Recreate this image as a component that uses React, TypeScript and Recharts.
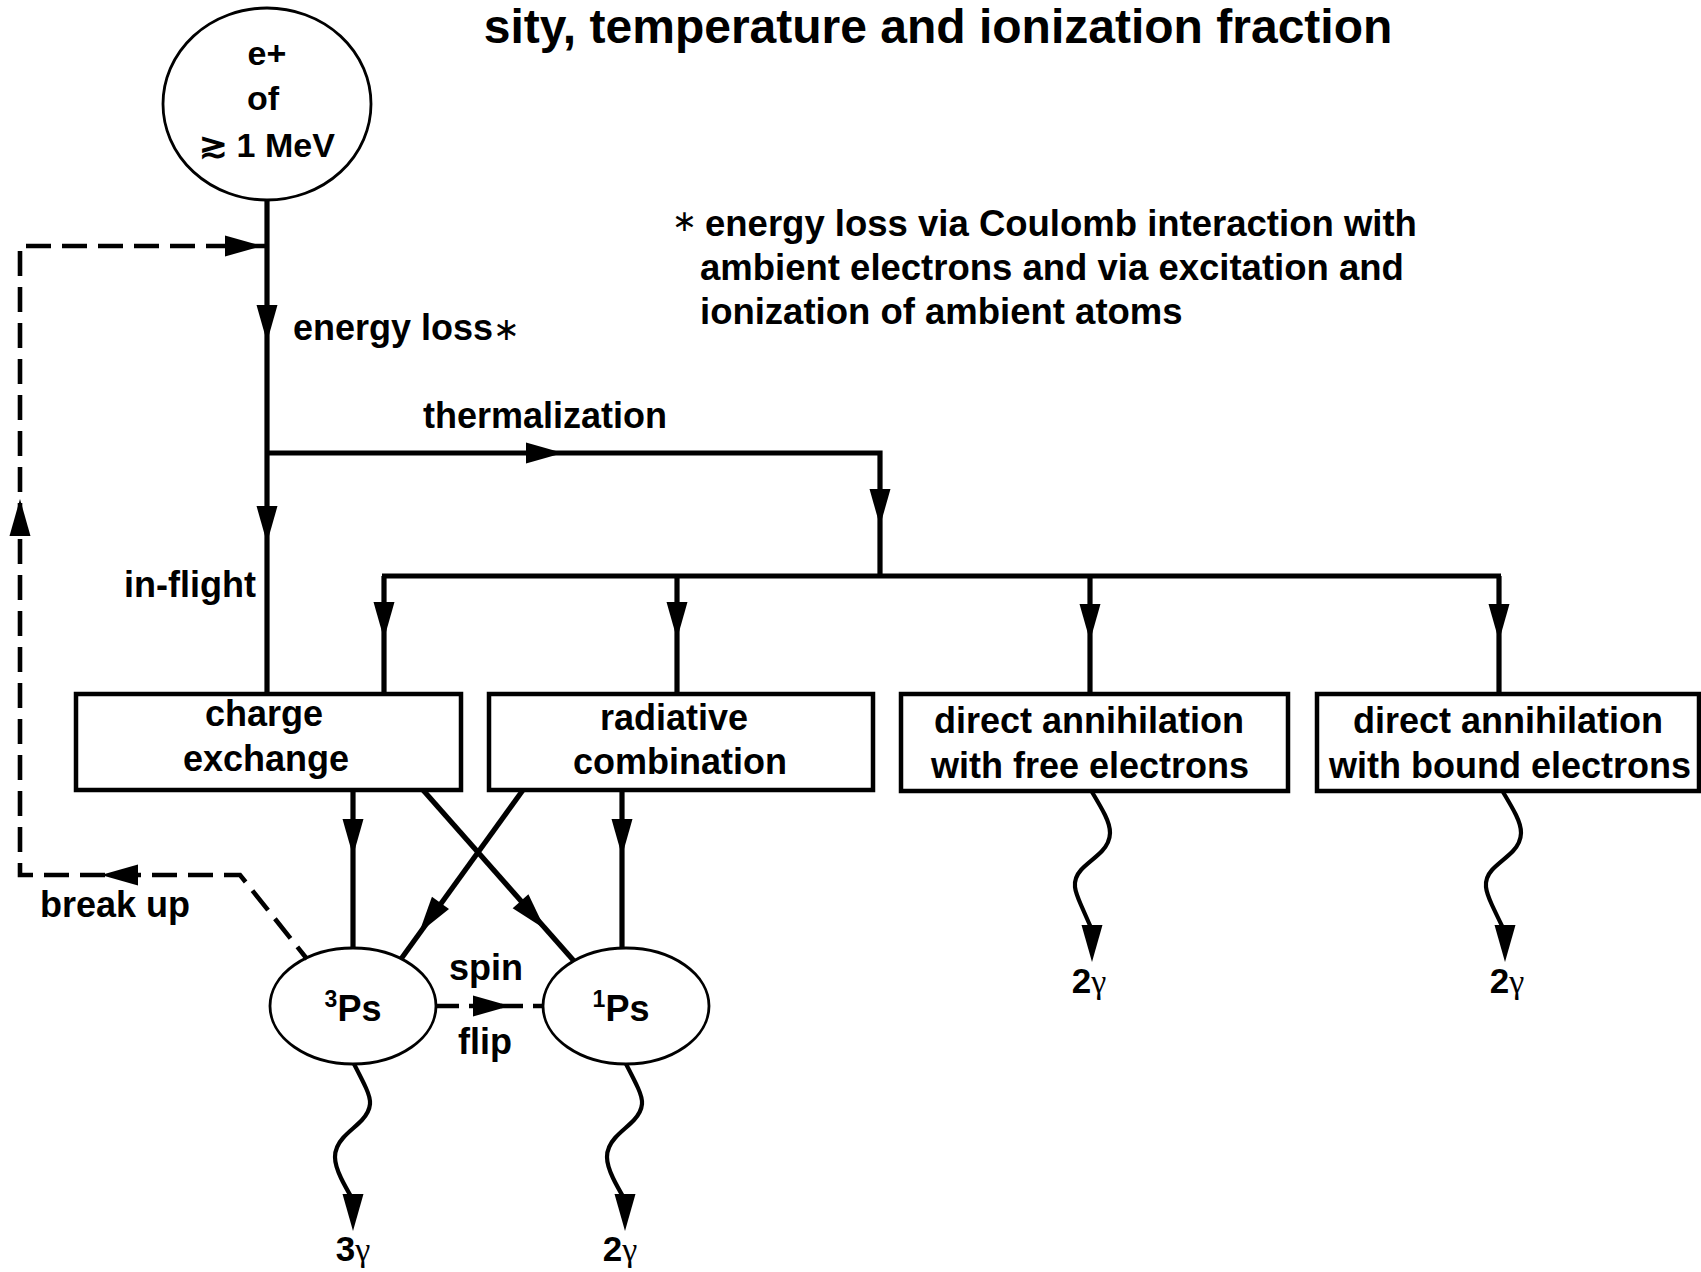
import React from "react";
import { ComposedChart, XAxis, YAxis, Line, Scatter, ReferenceArea } from "recharts";

const W = 1701;
const H = 1272;
const FONT = "'Liberation Sans', Arial, Helvetica, sans-serif";
const SERIF = "'Liberation Serif', 'Times New Roman', serif";

// diagram coordinates (same units as the figure, y grows downwards)
const sourceNode = [{ x: 267, y: 104 }];
const psNodes = [
  { x: 353, y: 1006 },
  { x: 626, y: 1006 },
];

const boxes = [
  { x1: 76, x2: 461, y1: 694, y2: 790 },
  { x1: 489, x2: 873, y1: 694, y2: 790 },
  { x1: 901, x2: 1288, y1: 694, y2: 791 },
  { x1: 1317, x2: 1699, y1: 694, y2: 791 },
];

const solidPaths = [
  [{ x: 267, y: 200 }, { x: 267, y: 694 }],
  [{ x: 267, y: 453 }, { x: 880, y: 453 }, { x: 880, y: 576 }],
  [{ x: 382, y: 576 }, { x: 1501, y: 576 }],
  [{ x: 384, y: 576 }, { x: 384, y: 694 }],
  [{ x: 677, y: 576 }, { x: 677, y: 694 }],
  [{ x: 1090, y: 576 }, { x: 1090, y: 694 }],
  [{ x: 1499, y: 576 }, { x: 1499, y: 694 }],
  [{ x: 353, y: 790 }, { x: 353, y: 948 }],
  [{ x: 622, y: 790 }, { x: 622, y: 948 }],
  [{ x: 423, y: 790 }, { x: 574, y: 961 }],
  [{ x: 523, y: 790 }, { x: 401, y: 959 }],
];

const feedbackPath = [
  { x: 267, y: 246 },
  { x: 20, y: 246 },
  { x: 20, y: 875 },
  { x: 240, y: 875 },
  { x: 307, y: 959 },
];
const spinFlipPath = [{ x: 437, y: 1006 }, { x: 543, y: 1006 }];

const photonWaves = [
  [{ x: 354, y: 1064 }, { x: 366, y: 1088 }, { x: 370, y: 1104 }, { x: 362, y: 1120 }, { x: 343, y: 1138 }, { x: 335, y: 1157 }, { x: 341, y: 1178 }, { x: 353, y: 1200 }],
  [{ x: 626, y: 1064 }, { x: 638, y: 1088 }, { x: 642, y: 1104 }, { x: 634, y: 1120 }, { x: 615, y: 1138 }, { x: 607, y: 1157 }, { x: 613, y: 1178 }, { x: 625, y: 1200 }],
  [{ x: 1092, y: 792 }, { x: 1105, y: 815 }, { x: 1110, y: 833 }, { x: 1102, y: 851 }, { x: 1081, y: 870 }, { x: 1075, y: 887 }, { x: 1081, y: 905 }, { x: 1092, y: 930 }],
  [{ x: 1503, y: 792 }, { x: 1516, y: 815 }, { x: 1521, y: 833 }, { x: 1513, y: 851 }, { x: 1492, y: 870 }, { x: 1486, y: 887 }, { x: 1492, y: 905 }, { x: 1504, y: 930 }],
];

// arrow tips, dir in degrees (0 = right, 90 = down)
const arrowHeads = [
  { x: 262, y: 246, dir: 0 },
  { x: 267, y: 342, dir: 90 },
  { x: 267, y: 543, dir: 90 },
  { x: 563, y: 453, dir: 0 },
  { x: 880, y: 526, dir: 90 },
  { x: 384, y: 639, dir: 90 },
  { x: 677, y: 639, dir: 90 },
  { x: 1090, y: 641, dir: 90 },
  { x: 1499, y: 641, dir: 90 },
  { x: 353, y: 856, dir: 90 },
  { x: 622, y: 856, dir: 90 },
  { x: 545, y: 929, dir: 48.6 },
  { x: 419, y: 933, dir: 125.5 },
  { x: 101, y: 875, dir: 180 },
  { x: 20, y: 499, dir: 270 },
  { x: 510, y: 1006, dir: 0 },
  { x: 353, y: 1231, dir: 90 },
  { x: 625, y: 1231, dir: 90 },
  { x: 1092, y: 962, dir: 90 },
  { x: 1505, y: 962, dir: 90 },
];

const titleText = [{ x: 938, y: 43, text: "sity, temperature and ionization fraction" }];
const sourceLabels = [
  { x: 267, y: 65, text: "e+" },
  { x: 263, y: 110, text: "of" },
  { x: 267, y: 157, text: "\u2273 1 MeV" },
];
const flowLabels = [
  { x: 545, y: 428, text: "thermalization" },
  { x: 190, y: 597, text: "in-flight" },
  { x: 115, y: 917, text: "break up" },
  { x: 486, y: 980, text: "spin" },
  { x: 485, y: 1054, text: "flip" },
];
const starredLabels = [{ x: 293, y: 340, text: "energy loss" }];
const boxLabels = [
  { x: 264, y: 726, text: "charge" },
  { x: 266, y: 771, text: "exchange" },
  { x: 674, y: 730, text: "radiative" },
  { x: 680, y: 774, text: "combination" },
  { x: 1089, y: 733, text: "direct annihilation" },
  { x: 1090, y: 778, text: "with free electrons" },
  { x: 1508, y: 733, text: "direct annihilation" },
  { x: 1510, y: 778, text: "with bound electrons" },
];
const footnoteLines = [
  { x: 705, y: 236, text: "energy loss via Coulomb interaction with", star: true },
  { x: 700, y: 280, text: "ambient electrons and via excitation and" },
  { x: 700, y: 324, text: "ionization of ambient atoms" },
];
const psLabels = [
  { x: 353, y: 1021, sup: "3" },
  { x: 621, y: 1021, sup: "1" },
];
const photonLabels = [
  { x: 353, y: 1261, n: "3" },
  { x: 620, y: 1261, n: "2" },
  { x: 1089, y: 993, n: "2" },
  { x: 1507, y: 993, n: "2" },
];

const textShape = (size: number, anchor: "start" | "middle" = "middle") => (props: any) => (
  <text x={props.cx} y={props.cy} textAnchor={anchor} fontFamily={FONT} fontWeight={700} fontSize={size} fill="#000">
    {props.payload.text}
  </text>
);

const starShape = (props: any) => (
  <text x={props.cx} y={props.cy} fontFamily={FONT} fontWeight={700} fontSize={36} fill="#000">
    {props.payload.text}
    <tspan fontFamily="'DejaVu Sans', sans-serif" fontWeight={400} fontSize={32}>{"\u2217"}</tspan>
  </text>
);

const footnoteShape = (props: any) => (
  <g>
    {props.payload.star && (
      <text x={props.cx - 8} y={props.cy - 5} textAnchor="end" fontFamily="'DejaVu Sans', sans-serif" fontSize={30} fill="#000">
        {"\u2217"}
      </text>
    )}
    <text x={props.cx} y={props.cy} fontFamily={FONT} fontWeight={700} fontSize={36.5} fill="#000">
      {props.payload.text}
    </text>
  </g>
);

const psShape = (props: any) => (
  <text x={props.cx} y={props.cy} textAnchor="middle" fontFamily={FONT} fontWeight={700} fill="#000">
    <tspan fontSize={23} dy={-14}>{props.payload.sup}</tspan>
    <tspan fontSize={36} dy={14}>Ps</tspan>
  </text>
);

const photonShape = (props: any) => (
  <text x={props.cx} y={props.cy} textAnchor="middle" fill="#000">
    <tspan fontFamily={FONT} fontWeight={700} fontSize={35}>{props.payload.n}</tspan>
    <tspan fontFamily={SERIF} fontSize={34}>{"\u03b3"}</tspan>
  </text>
);

const ellipseShape = (rx: number, ry: number) => (props: any) => (
  <ellipse cx={props.cx} cy={props.cy} rx={rx} ry={ry} fill="none" stroke="#000" strokeWidth={2.8} />
);

const arrowShape = (props: any) => {
  const { cx, cy, payload } = props;
  const a = (payload.dir * Math.PI) / 180;
  const len = 37;
  const half = 10.5;
  const bx = cx - len * Math.cos(a);
  const by = cy - len * Math.sin(a);
  const px = -Math.sin(a) * half;
  const py = Math.cos(a) * half;
  return <polygon points={`${cx},${cy} ${bx + px},${by + py} ${bx - px},${by - py}`} fill="#000" />;
};

export default function App() {
  return (
    <div style={{ position: "absolute", left: 0, top: 0, width: W, height: H, background: "#fff" }}>
      <ComposedChart width={W} height={H} margin={{ top: 0, right: 0, bottom: 0, left: 0 }}>
        <XAxis type="number" dataKey="x" domain={[0, W]} hide allowDataOverflow />
        <YAxis type="number" dataKey="y" domain={[0, H]} reversed hide allowDataOverflow />
        {boxes.map((b, i) => (
          <ReferenceArea key={"b" + i} x1={b.x1} x2={b.x2} y1={b.y1} y2={b.y2} fill="none" fillOpacity={0} stroke="#000" strokeWidth={4.5} ifOverflow="visible" />
        ))}
        {solidPaths.map((p, i) => (
          <Line key={"s" + i} data={p} dataKey="y" type="linear" stroke="#000" strokeWidth={5.2} dot={false} activeDot={false} isAnimationActive={false} />
        ))}
        <Line data={feedbackPath} dataKey="y" type="linear" stroke="#000" strokeWidth={4.6} strokeDasharray="25 11" dot={false} activeDot={false} isAnimationActive={false} />
        <Line data={spinFlipPath} dataKey="y" type="linear" stroke="#000" strokeWidth={4.6} strokeDasharray="22 10" dot={false} activeDot={false} isAnimationActive={false} />
        {photonWaves.map((p, i) => (
          <Line key={"w" + i} data={p} dataKey="y" type="natural" stroke="#000" strokeWidth={4.2} dot={false} activeDot={false} isAnimationActive={false} />
        ))}
        <Scatter data={sourceNode} shape={ellipseShape(104, 96)} isAnimationActive={false} />
        <Scatter data={psNodes} shape={ellipseShape(83, 58)} isAnimationActive={false} />
        <Scatter data={arrowHeads} shape={arrowShape} isAnimationActive={false} />
        <Scatter data={titleText} shape={textShape(48)} isAnimationActive={false} />
        <Scatter data={sourceLabels} shape={textShape(34)} isAnimationActive={false} />
        <Scatter data={flowLabels} shape={textShape(36)} isAnimationActive={false} />
        <Scatter data={starredLabels} shape={starShape} isAnimationActive={false} />
        <Scatter data={boxLabels} shape={textShape(36)} isAnimationActive={false} />
        <Scatter data={footnoteLines} shape={footnoteShape} isAnimationActive={false} />
        <Scatter data={psLabels} shape={psShape} isAnimationActive={false} />
        <Scatter data={photonLabels} shape={photonShape} isAnimationActive={false} />
      </ComposedChart>
    </div>
  );
}
